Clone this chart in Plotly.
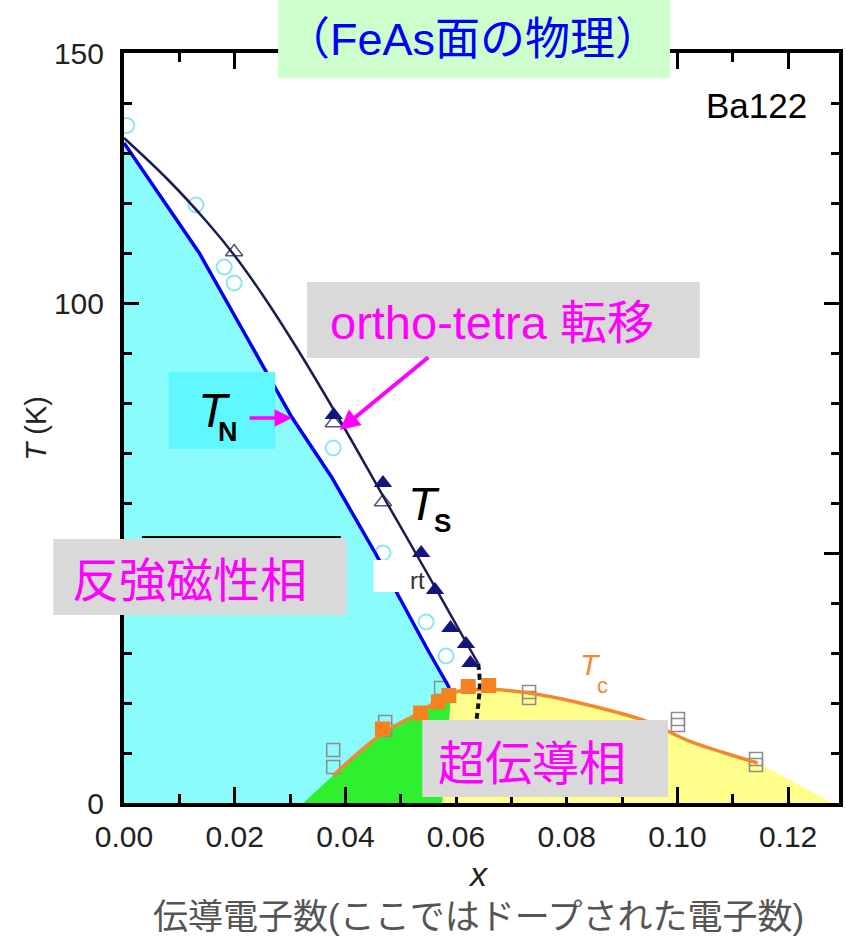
import plotly.graph_objects as go

# ---------------- data ----------------
# Neel temperature line T_N
tn_x = [0.0, 0.0136, 0.0220, 0.0303, 0.0375, 0.0454, 0.0549, 0.0588]
tn_T = [132.0, 110.0, 93.5, 77.2, 65.2, 50.0, 30.6, 23.0]

# structural transition line T_S
ts_x = [0.0, 0.0080, 0.0150, 0.0199, 0.0250, 0.0315, 0.0393, 0.0470, 0.0545, 0.0621, 0.0640]
ts_T = [133.0, 124.6, 116.2, 109.6, 101.7, 90.5, 76.0, 61.0, 46.5, 31.6, 27.9]

# dashed continuation of T_S
tsd_x = [0.0640, 0.0643, 0.0640, 0.0635]
tsd_T = [27.9, 24.0, 19.5, 15.0]

# superconducting Tc line
tc_x = [0.0378, 0.0466, 0.0536, 0.0591, 0.0666, 0.0754, 0.0850, 0.0942, 0.1017, 0.1080, 0.1145]
tc_T = [5.5, 13.8, 18.2, 22.0, 22.7, 21.6, 19.3, 16.4, 12.6, 10.2, 8.0]

# filled triangles (T_S, ortho-tetra)
tri_f_x = [0.0379, 0.0468, 0.0537, 0.0562, 0.0590, 0.0618, 0.0626]
tri_f_T = [77.6, 64.0, 50.0, 42.6, 35.0, 31.8, 28.0]
# open triangles
tri_o_x = [0.0199, 0.0379, 0.0468]
tri_o_T = [110.2, 76.0, 60.2]
# open circles (T_N)
circ_x = [0.0005, 0.0130, 0.0181, 0.0199, 0.0378, 0.0468, 0.0546, 0.0582]
circ_T = [135.5, 119.6, 107.2, 104.0, 71.0, 50.0, 36.2, 29.4]
# filled orange squares (Tc)
sq_f_x = [0.0467, 0.0536, 0.0568, 0.0587, 0.0622, 0.0659]
sq_f_T = [14.8, 18.0, 20.2, 21.5, 23.3, 23.5]
# open grey squares (Tc)
sq_o_x = [0.0378, 0.0378, 0.0472, 0.0472, 0.0573, 0.0732, 0.0732, 0.1001, 0.1001, 0.1142, 0.1142]
sq_o_T = [10.6, 7.2, 16.2, 14.6, 23.0, 22.2, 21.0, 16.8, 15.6, 8.8, 7.6]

# phase region boundaries
green_x0 = [0.0324]
green_right_x = [0.0591, 0.0575]
green_right_T = [21.5, 0.0]
yellow_tail_x = [0.1192, 0.1280]
yellow_tail_T = [5.3, 0.0]

x_ticks = [0.00, 0.02, 0.04, 0.06, 0.08, 0.10, 0.12]
x_ticktext = ["0.00", "0.02", "0.04", "0.06", "0.08", "0.10", "0.12"]
y_ticks = [0, 50, 100, 150]
y_ticktext = ["0", "", "100", "150"]   # the 50 label is hidden by the phase box

# ---------------- figure ----------------
W, H = 846, 941
ML, MR, MT, MB = 124, 3, 53, 138
PW, PH = W - ML - MR, H - MT - MB


def px(xp):
    return (xp - ML) / PW


def py(yp):
    return (H - MB - yp) / PH


LATIN = "Liberation Sans, Arial, sans-serif"
JP = "Liberation Sans, Noto Sans CJK JP, sans-serif"

fig = go.Figure()

# cyan AFM region
cy_x = [0.0] + tn_x + [green_right_x[0], green_right_x[1], 0.0]
cy_T = [0.0] + tn_T + [green_right_T[0], green_right_T[1], 0.0]
fig.add_trace(go.Scatter(x=cy_x, y=cy_T, fill="toself", fillcolor="#8afcfc",
                         line=dict(width=0), mode="lines", hoverinfo="skip"))

# yellow SC region
ye_x = [green_right_x[1]] + [v for v in tc_x if v >= 0.0591] + yellow_tail_x + [green_right_x[1]]
ye_T = [0.0] + [t for v, t in zip(tc_x, tc_T) if v >= 0.0591] + yellow_tail_T + [0.0]
fig.add_trace(go.Scatter(x=ye_x, y=ye_T, fill="toself", fillcolor="#ffff8c",
                         line=dict(width=0), mode="lines", hoverinfo="skip"))

# green coexistence region
gr_x = green_x0 + [v for v in tc_x if v <= 0.0591] + green_right_x + green_x0
gr_T = [0.0] + [t for v, t in zip(tc_x, tc_T) if v <= 0.0591] + green_right_T + [0.0]
fig.add_trace(go.Scatter(x=gr_x, y=gr_T, fill="toself", fillcolor="#2ef02e",
                         line=dict(width=0), mode="lines", hoverinfo="skip"))

# markers
fig.add_trace(go.Scatter(x=circ_x, y=circ_T, mode="markers",
                         marker=dict(symbol="circle-open", size=15, color="#8fe6f2",
                                     line=dict(width=2))))
fig.add_trace(go.Scatter(x=sq_o_x, y=sq_o_T, mode="markers",
                         marker=dict(symbol="square-open", size=13, color="#8c8c8c",
                                     line=dict(width=1.5))))
fig.add_trace(go.Scatter(x=tri_o_x, y=tri_o_T, mode="markers",
                         marker=dict(symbol="triangle-up-open", size=15, color="#55557a",
                                     line=dict(width=1.5))))

# lines
fig.add_trace(go.Scatter(x=tc_x, y=tc_T, mode="lines",
                         line=dict(color="#f08a30", width=3.5, shape="spline")))
fig.add_trace(go.Scatter(x=ts_x, y=ts_T, mode="lines",
                         line=dict(color="#1c1c55", width=2.5, shape="spline")))
fig.add_trace(go.Scatter(x=tsd_x, y=tsd_T, mode="lines",
                         line=dict(color="#111111", width=4, dash="6px,4px", shape="spline")))
fig.add_trace(go.Scatter(x=tn_x, y=tn_T, mode="lines",
                         line=dict(color="#0000f0", width=3.5)))

fig.add_trace(go.Scatter(x=tri_f_x, y=tri_f_T, mode="markers",
                         marker=dict(symbol="triangle-up", size=16, color="#14147f")))
fig.add_trace(go.Scatter(x=sq_f_x, y=sq_f_T, mode="markers",
                         marker=dict(symbol="square", size=15, color="#f5821f")))

# ---------------- boxes ----------------
shapes = []


def box(x0, y0, x1, y1, color):
    shapes.append(dict(type="rect", xref="paper", yref="paper",
                       x0=px(x0), x1=px(x1), y0=py(y1), y1=py(y0),
                       fillcolor=color, line=dict(width=0), layer="above"))


box(279, 0, 673, 78, "#ccffcc")          # title box
box(308, 282, 703, 358, "#d9d9d9")       # ortho-tetra
box(169, 372, 276, 449, "#5ff8ff")       # T_N
box(53, 539, 348, 615, "#d9d9d9")        # AFM phase
box(375, 560, 413, 592, "#ffffff")       # white patch over "rt"
box(424, 720, 671, 797, "#d9d9d9")       # SC phase
shapes.append(dict(type="line", xref="paper", yref="paper",
                   x0=px(142), x1=px(342), y0=py(537), y1=py(537),
                   line=dict(color="black", width=2), layer="above"))

# ---------------- annotations ----------------
ann = []


def text(xp, yp, s, size, color, font=JP, xanchor="center", angle=0):
    ann.append(dict(x=px(xp), y=py(yp), xref="paper", yref="paper", text=s,
                    showarrow=False, xanchor=xanchor, yanchor="middle",
                    textangle=angle,
                    font=dict(family=font, size=size, color=color)))


text(474, 40, "（FeAs面の物理）", 45, "#0000ff")
text(760, 105, "Ba122", 35, "#000000", font=LATIN)
text(494, 322, "ortho-tetra 転移", 47, "#ff00ff")
text(190, 580, "反強磁性相", 47, "#ff00ff")
text(534, 763, "超伝導相", 47, "#ff00ff")
text(215, 410, "<i>T</i>", 48, "#000000", font=LATIN)
text(229, 432, "<b>N</b>", 27, "#000000", font=LATIN)
text(426, 503, "<i>T</i>", 47, "#000000", font=LATIN)
text(444, 523, "<b>S</b>", 26, "#000000", font=LATIN)
text(593, 664, "<i>T</i>", 30, "#ef8a2f", font=LATIN)
text(605, 685, "c", 22, "#ef8a2f", font=LATIN)
text(410, 580, "rt", 24, "#333333", font=LATIN, xanchor="left")
text(36, 428, "<i>T</i> (K)", 29, "#222222", font=LATIN, angle=-90)
text(480, 874, "<i>x</i>", 34, "#222222", font=LATIN)
text(480, 917, "伝導電子数(ここではドープされた電子数)", 35, "#555555")

# arrows
ann.append(dict(x=px(293), y=py(418), xref="paper", yref="paper", text="",
                showarrow=True, ax=-44, ay=0, arrowcolor="#ff00ff",
                arrowwidth=3.5, arrowhead=2, arrowsize=1))
ann.append(dict(x=px(341), y=py(430), xref="paper", yref="paper", text="",
                showarrow=True, ax=90, ay=-74, arrowcolor="#ff00ff",
                arrowwidth=4, arrowhead=2, arrowsize=1))

axis_common = dict(showline=True, linewidth=4, linecolor="black", mirror="ticks",
                   ticks="inside", tickwidth=3, tickcolor="black",
                   showgrid=False, zeroline=False,
                   tickfont=dict(family=LATIN, size=30, color="#222222"))

fig.update_layout(
    width=W, height=H,
    margin=dict(l=ML, r=MR, t=MT, b=MB, pad=0),
    paper_bgcolor="white", plot_bgcolor="white",
    showlegend=False,
    xaxis=dict(range=[0, 0.1292], tickvals=x_ticks, ticktext=x_ticktext,
               ticklen=16, ticklabelstandoff=4,
               minor=dict(dtick=0.01, tick0=0, ticks="inside", ticklen=9,
                          tickwidth=3, tickcolor="black"),
               **axis_common),
    yaxis=dict(range=[0, 150], tickvals=y_ticks, ticktext=y_ticktext,
               ticklen=15, ticklabelstandoff=10,
               minor=dict(dtick=10, tick0=0, ticks="inside", ticklen=8,
                          tickwidth=3, tickcolor="black"),
               **axis_common),
    shapes=shapes,
    annotations=ann,
)

fig.write_html("out.html")
